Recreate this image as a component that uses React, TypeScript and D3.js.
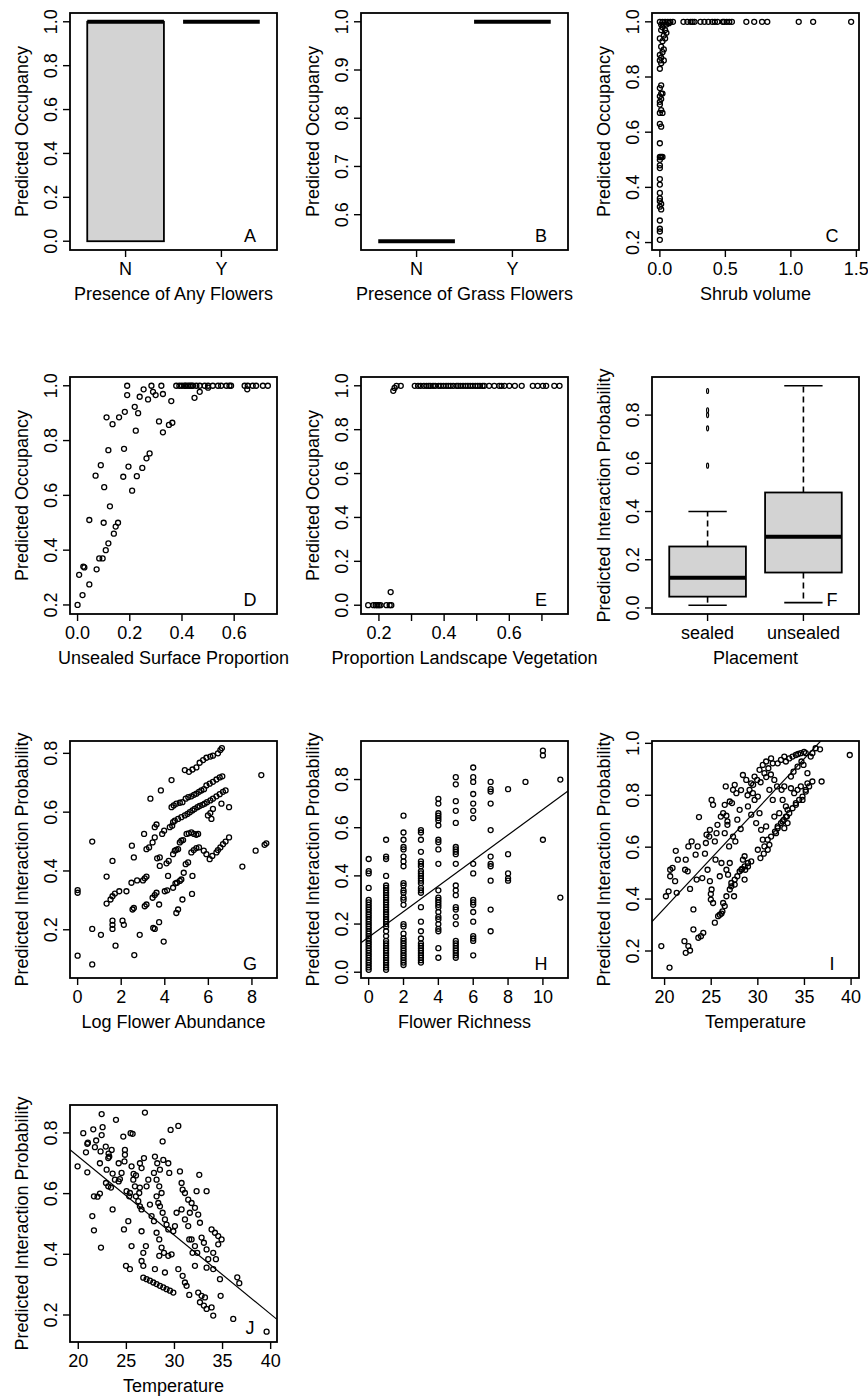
import React from "react";
import * as d3 from "d3";

// ---------- data ----------
const ynGroups = ["N", "Y"];
const anyFlowerBoxes = [
  { lo: 0, q1: 0, med: 1, q3: 1, hi: 1, out: [] as number[] },
  { lo: 1, q1: 1, med: 1, q3: 1, hi: 1, out: [] as number[] },
];
const grassFlowerBoxes = [
  { lo: 0.545, q1: 0.545, med: 0.545, q3: 0.545, hi: 0.545, out: [] as number[] },
  { lo: 1, q1: 1, med: 1, q3: 1, hi: 1, out: [] as number[] },
];
const placementGroups = ["sealed", "unsealed"];
const placementBoxes = [
  { lo: 0.011, q1: 0.047, med: 0.125, q3: 0.255, hi: 0.4, out: [0.59, 0.745, 0.8, 0.82, 0.9] },
  { lo: 0.022, q1: 0.147, med: 0.295, q3: 0.479, hi: 0.922, out: [] as number[] },
];

const shrubPoints = [
  [0.0, 1.0], [0.02, 1.0], [0.04, 1.0], [0.06, 1.0], [0.08, 1.0], [0.1, 1.0], [0.18, 1.0], [0.21, 1.0],
  [0.235, 1.0], [0.25, 1.0], [0.265, 1.0], [0.31, 1.0], [0.34, 1.0], [0.37, 1.0], [0.4, 1.0], [0.42, 1.0],
  [0.44, 1.0], [0.48, 1.0], [0.49, 1.0], [0.51, 1.0], [0.53, 1.0], [0.55, 1.0], [0.66, 1.0], [0.72, 1.0],
  [0.78, 1.0], [0.82, 1.0], [1.06, 1.0], [1.17, 1.0], [1.46, 1.0],
  [0.01, 0.99], [0.03, 0.99], [0.05, 0.99], [0.07, 0.995], [0.02, 0.98], [0.04, 0.97], [0.05, 0.96],
  [0.01, 0.97], [0.03, 0.95], [0.0, 0.94], [0.04, 0.94], [0.02, 0.93], [0.01, 0.91], [0.03, 0.9],
  [0.02, 0.89], [0.0, 0.88], [0.01, 0.87], [0.0, 0.86], [0.03, 0.86], [0.01, 0.85], [0.0, 0.83],
  [0.01, 0.77], [0.0, 0.76], [0.01, 0.74], [0.02, 0.74], [0.0, 0.73], [0.01, 0.72], [0.0, 0.71],
  [0.0, 0.7], [0.01, 0.68], [0.0, 0.67], [0.02, 0.67], [0.0, 0.63], [0.01, 0.62], [0.0, 0.56],
  [0.01, 0.51], [0.0, 0.51], [0.02, 0.51], [0.0, 0.5], [0.0, 0.48], [0.0, 0.47], [0.0, 0.43],
  [0.0, 0.41], [0.0, 0.38], [0.0, 0.36], [0.0, 0.35], [0.01, 0.34], [0.0, 0.33], [0.01, 0.32],
  [0.0, 0.28], [0.0, 0.25], [0.0, 0.24], [0.0, 0.21],
];

const unsealedPoints = [
  [0.0, 0.2], [0.006, 0.31], [0.019, 0.236], [0.022, 0.34], [0.026, 0.337], [0.045, 0.275], [0.045, 0.51],
  [0.069, 0.672], [0.073, 0.33], [0.083, 0.37], [0.089, 0.71], [0.096, 0.37], [0.1, 0.5], [0.102, 0.63],
  [0.108, 0.4], [0.111, 0.885], [0.118, 0.425], [0.118, 0.765], [0.124, 0.56], [0.134, 0.86], [0.139, 0.46],
  [0.146, 0.486], [0.155, 0.5], [0.159, 0.885], [0.175, 0.668], [0.178, 0.77], [0.181, 0.905], [0.19, 1.0],
  [0.19, 0.966], [0.195, 0.705], [0.209, 0.617], [0.219, 0.923], [0.223, 0.836], [0.227, 0.67], [0.232, 0.9],
  [0.238, 0.96], [0.248, 0.7], [0.253, 0.987], [0.264, 0.735], [0.27, 0.95], [0.276, 0.753], [0.283, 1.0],
  [0.289, 0.978], [0.299, 0.966], [0.312, 0.87], [0.321, 1.0], [0.327, 0.97], [0.327, 0.83], [0.35, 0.857],
  [0.359, 0.944], [0.363, 0.865],
  [0.378, 1.0], [0.39, 1.0], [0.4, 1.0], [0.41, 1.0], [0.415, 1.0], [0.423, 1.0], [0.43, 1.0], [0.436, 1.0],
  [0.442, 1.0], [0.455, 1.0], [0.468, 1.0], [0.487, 1.0], [0.5, 1.0], [0.518, 1.0], [0.538, 1.0], [0.55, 1.0],
  [0.57, 1.0], [0.582, 1.0], [0.588, 1.0], [0.64, 1.0], [0.652, 1.0], [0.671, 1.0], [0.684, 1.0], [0.71, 1.0],
  [0.729, 1.0], [0.448, 0.956], [0.468, 0.978], [0.5, 0.993], [0.65, 0.987],
];

const vegetationPoints = [
  [0.167, 0.0], [0.183, 0.0], [0.19, 0.0], [0.195, 0.0], [0.2, 0.0], [0.205, 0.0], [0.223, 0.0], [0.233, 0.0],
  [0.238, 0.0], [0.236, 0.06],
  [0.244, 0.977], [0.248, 0.99], [0.254, 1.0], [0.267, 1.0],
  [0.31, 1.0], [0.32, 1.0], [0.328, 1.0], [0.338, 1.0], [0.346, 1.0], [0.353, 1.0], [0.358, 1.0], [0.366, 1.0],
  [0.373, 1.0], [0.383, 1.0], [0.39, 1.0], [0.398, 1.0], [0.406, 1.0], [0.413, 1.0], [0.42, 1.0], [0.428, 1.0],
  [0.438, 1.0], [0.443, 1.0], [0.45, 1.0], [0.458, 1.0], [0.466, 1.0], [0.473, 1.0], [0.48, 1.0], [0.488, 1.0],
  [0.496, 1.0], [0.503, 1.0], [0.51, 1.0], [0.518, 1.0], [0.523, 1.0],
  [0.538, 1.0], [0.554, 1.0], [0.569, 1.0], [0.576, 1.0], [0.585, 1.0], [0.6, 1.0], [0.617, 1.0], [0.638, 1.0],
  [0.672, 1.0], [0.687, 1.0], [0.703, 1.0], [0.713, 1.0], [0.738, 1.0], [0.754, 1.0],
];

const abundancePoints = [
  [0, 0.335], [0, 0.326], [0, 0.112], [0.67, 0.5], [0.67, 0.203], [0.67, 0.082], [1.07, 0.183], [1.33, 0.381],
  [1.33, 0.289], [1.51, 0.303], [1.6, 0.314], [1.71, 0.323], [1.6, 0.434], [1.6, 0.231], [1.6, 0.217],
  [1.6, 0.203], [1.74, 0.146], [1.91, 0.331], [2.06, 0.231], [2.12, 0.217], [2.24, 0.331], [2.47, 0.36],
  [2.49, 0.486], [2.58, 0.446], [2.52, 0.269], [2.58, 0.274], [2.6, 0.114], [2.73, 0.368], [2.85, 0.183],
  [3.05, 0.526], [3.0, 0.368], [3.08, 0.375], [3.16, 0.381], [3.08, 0.28], [3.16, 0.286], [3.16, 0.474],
  [3.28, 0.48], [3.34, 0.646], [3.44, 0.497], [3.54, 0.514], [3.54, 0.549], [3.62, 0.558], [3.47, 0.206],
  [3.54, 0.203], [3.44, 0.309], [3.54, 0.318], [3.62, 0.326], [3.65, 0.443], [3.77, 0.446], [3.74, 0.286],
  [3.74, 0.226], [3.82, 0.674], [3.77, 0.417], [3.88, 0.526], [3.97, 0.537], [3.95, 0.16], [4.0, 0.331],
  [4.11, 0.334], [4.08, 0.426], [4.18, 0.434], [4.15, 0.383], [4.31, 0.709], [4.23, 0.549], [4.34, 0.554],
  [4.38, 0.457], [4.46, 0.469], [4.53, 0.472], [4.61, 0.474], [4.38, 0.343], [4.49, 0.358], [4.56, 0.36],
  [4.53, 0.257], [4.61, 0.269], [4.69, 0.366], [4.76, 0.371], [4.69, 0.497], [4.76, 0.503], [4.84, 0.505],
  [4.81, 0.303], [4.87, 0.394], [4.76, 0.583], [4.61, 0.577], [4.46, 0.571], [4.38, 0.566], [4.31, 0.617],
  [4.41, 0.623], [4.53, 0.629], [4.69, 0.632], [4.81, 0.634], [4.92, 0.743], [4.96, 0.423], [5.07, 0.429],
  [5.0, 0.526], [5.1, 0.528], [5.22, 0.531], [5.34, 0.526], [5.45, 0.523], [5.53, 0.526], [4.92, 0.589],
  [5.04, 0.594], [5.15, 0.6], [5.27, 0.606], [5.37, 0.611], [5.5, 0.617], [5.6, 0.621], [5.73, 0.625],
  [5.83, 0.629], [4.96, 0.646], [5.08, 0.651], [5.22, 0.654], [5.34, 0.659], [5.45, 0.663], [5.57, 0.669],
  [5.68, 0.674], [5.8, 0.678], [5.11, 0.737], [5.27, 0.745], [5.45, 0.752], [5.25, 0.322], [5.27, 0.383],
  [5.22, 0.463], [5.33, 0.471], [5.45, 0.478], [5.57, 0.48], [5.6, 0.768], [5.76, 0.777], [5.91, 0.785],
  [6.09, 0.789], [6.21, 0.792], [6.44, 0.8], [6.55, 0.811], [6.62, 0.818], [5.91, 0.691], [6.06, 0.697],
  [6.21, 0.703], [6.37, 0.711], [6.52, 0.718], [6.64, 0.722], [5.94, 0.634], [6.09, 0.64], [6.21, 0.646],
  [6.37, 0.654], [6.52, 0.661], [6.67, 0.669], [6.79, 0.674], [5.98, 0.589], [6.09, 0.597], [6.21, 0.611],
  [6.14, 0.577], [6.06, 0.44], [6.18, 0.451], [6.37, 0.463], [6.44, 0.471], [6.55, 0.48], [6.67, 0.491],
  [6.79, 0.5], [6.95, 0.514], [5.79, 0.469], [5.91, 0.457], [6.6, 0.629], [6.95, 0.617], [7.56, 0.415],
  [8.17, 0.469], [8.43, 0.726], [8.58, 0.489], [8.66, 0.494],
];

const richnessValues: [number, number[]][] = [
  [0, [0.47, 0.42, 0.41, 0.35, 0.3, 0.29, 0.28, 0.27, 0.26, 0.25, 0.24, 0.23, 0.22, 0.21, 0.2, 0.19, 0.18, 0.17,
    0.16, 0.15, 0.14, 0.13, 0.12, 0.11, 0.1, 0.09, 0.08, 0.07, 0.06, 0.05, 0.04, 0.03, 0.02, 0.01]],
  [1, [0.55, 0.48, 0.47, 0.4, 0.36, 0.35, 0.34, 0.33, 0.32, 0.31, 0.3, 0.29, 0.28, 0.27, 0.26, 0.25, 0.24, 0.23,
    0.22, 0.21, 0.2, 0.19, 0.17, 0.15, 0.13, 0.12, 0.11, 0.1, 0.09, 0.08, 0.07, 0.06, 0.05, 0.04, 0.03, 0.02, 0.01]],
  [2, [0.65, 0.58, 0.55, 0.52, 0.51, 0.48, 0.46, 0.44, 0.37, 0.36, 0.34, 0.33, 0.31, 0.3, 0.28, 0.2, 0.19, 0.16,
    0.14, 0.13, 0.12, 0.11, 0.1, 0.09, 0.08, 0.07, 0.06, 0.05, 0.04, 0.03]],
  [3, [0.59, 0.58, 0.55, 0.5, 0.46, 0.45, 0.44, 0.42, 0.41, 0.4, 0.39, 0.38, 0.37, 0.35, 0.34, 0.33, 0.27, 0.21,
    0.17, 0.14, 0.12, 0.11, 0.1, 0.09, 0.08, 0.07, 0.06, 0.05, 0.04]],
  [4, [0.72, 0.7, 0.66, 0.65, 0.64, 0.63, 0.61, 0.55, 0.54, 0.51, 0.45, 0.34, 0.31, 0.3, 0.29, 0.28, 0.27, 0.25,
    0.23, 0.22, 0.2, 0.18, 0.17, 0.1, 0.06]],
  [5, [0.81, 0.78, 0.71, 0.67, 0.62, 0.52, 0.51, 0.5, 0.49, 0.45, 0.36, 0.34, 0.32, 0.27, 0.26, 0.23, 0.2, 0.13,
    0.12, 0.11, 0.1, 0.09, 0.08, 0.07, 0.06]],
  [6, [0.85, 0.81, 0.79, 0.74, 0.7, 0.67, 0.64, 0.45, 0.41, 0.3, 0.29, 0.28, 0.25, 0.21, 0.15, 0.14, 0.13, 0.07]],
  [7, [0.79, 0.76, 0.75, 0.7, 0.59, 0.48, 0.45, 0.44, 0.38, 0.26, 0.17]],
  [8, [0.76, 0.49, 0.41, 0.39, 0.38]],
  [9, [0.79]],
  [10, [0.92, 0.9, 0.55]],
  [11, [0.8, 0.31]],
];
const richnessFit = [0.146, 0.053]; // intercept, slope

const tempPointsI = [
  [19.65, 0.219], [20.53, 0.136], [20.14, 0.411], [20.43, 0.43], [20.6, 0.513], [20.6, 0.488], [20.85, 0.52],
  [21.2, 0.586], [21.42, 0.552], [21.3, 0.424], [21.13, 0.469], [22.13, 0.238], [22.27, 0.193], [22.55, 0.219],
  [22.73, 0.202], [22.27, 0.552], [22.2, 0.513], [22.48, 0.507], [22.55, 0.603], [22.9, 0.622], [22.73, 0.439],
  [23.09, 0.36], [23.09, 0.283], [23.44, 0.475], [23.33, 0.571], [23.55, 0.603], [23.69, 0.716], [23.62, 0.251],
  [23.9, 0.257], [24.15, 0.27], [24.04, 0.481], [24.33, 0.575], [24.43, 0.616], [24.5, 0.648], [24.79, 0.641],
  [24.86, 0.667], [25.04, 0.782], [25.2, 0.763], [24.61, 0.513], [24.86, 0.469], [25.04, 0.437], [24.96, 0.398],
  [25.2, 0.385], [25.39, 0.309], [24.96, 0.42], [25.46, 0.552], [25.39, 0.622], [25.57, 0.654], [25.67, 0.686],
  [25.92, 0.488], [26.1, 0.539], [25.92, 0.34], [26.2, 0.353], [26.45, 0.373], [26.03, 0.718], [26.28, 0.731],
  [26.45, 0.763], [26.63, 0.721], [26.74, 0.699], [26.56, 0.834], [26.45, 0.654], [26.74, 0.686], [26.92, 0.603],
  [26.63, 0.513], [26.81, 0.494], [26.99, 0.539], [27.16, 0.449], [27.52, 0.456], [27.45, 0.411], [26.99, 0.776],
  [27.23, 0.77], [27.34, 0.821], [27.52, 0.84], [27.7, 0.808], [27.34, 0.641], [27.59, 0.622], [27.8, 0.706],
  [28.05, 0.744], [28.16, 0.67], [28.23, 0.513], [28.4, 0.552], [28.58, 0.565], [28.65, 0.513], [28.58, 0.475],
  [28.94, 0.526], [29.11, 0.821], [29.29, 0.846], [29.47, 0.808], [29.65, 0.872], [29.65, 0.782], [30.0, 0.795],
  [29.93, 0.859], [28.76, 0.859], [28.4, 0.878], [28.94, 0.757], [29.29, 0.725], [29.82, 0.693], [30.18, 0.731],
  [30.35, 0.667], [30.53, 0.629], [30.89, 0.68], [30.0, 0.59], [30.28, 0.558], [30.64, 0.575], [31.06, 0.59],
  [31.24, 0.609], [30.18, 0.898], [30.53, 0.917], [30.71, 0.885], [30.89, 0.93], [31.13, 0.904], [31.42, 0.942],
  [31.6, 0.923], [31.24, 0.821], [31.6, 0.782], [31.77, 0.859], [32.06, 0.834], [31.77, 0.718], [31.95, 0.654],
  [32.13, 0.68], [32.3, 0.731], [32.13, 0.923], [32.48, 0.936], [32.84, 0.949], [33.01, 0.93], [33.37, 0.942],
  [32.55, 0.821], [32.66, 0.782], [32.84, 0.834], [33.01, 0.757], [32.66, 0.699], [32.84, 0.673], [33.01, 0.718],
  [33.19, 0.693], [33.55, 0.872], [33.83, 0.891], [34.26, 0.91], [33.9, 0.808], [33.72, 0.949], [34.08, 0.955],
  [34.33, 0.959], [34.61, 0.962], [34.96, 0.967], [35.14, 0.962], [34.08, 0.77], [34.26, 0.821], [34.61, 0.834],
  [34.79, 0.782], [33.55, 0.827], [33.19, 0.744], [35.14, 0.821], [35.32, 0.846], [35.67, 0.949], [35.85, 0.962],
  [34.68, 0.93], [34.9, 0.917], [36.2, 0.981], [36.67, 0.977], [36.84, 0.853], [35.32, 0.885], [39.86, 0.955],
  [26.28, 0.385], [26.63, 0.411], [26.99, 0.437], [27.16, 0.462], [27.52, 0.475], [27.8, 0.488], [28.05, 0.507],
  [28.3, 0.516], [28.58, 0.526], [28.94, 0.539], [29.29, 0.545], [25.74, 0.334], [26.1, 0.344],
  [30.71, 0.603], [31.06, 0.629], [31.42, 0.641], [31.84, 0.66], [32.13, 0.673], [32.48, 0.693], [32.77, 0.705],
  [33.12, 0.718], [33.37, 0.731], [33.72, 0.75], [34.08, 0.763], [34.43, 0.782], [34.79, 0.795], [35.14, 0.814],
  [35.5, 0.834], [35.85, 0.853], [28.9, 0.8], [29.5, 0.84], [30.3, 0.85], [28.2, 0.82], [30.9, 0.87], [31.4, 0.88],
];
const tempFitI = [-0.4046, 0.03847];

const tempPointsJ = [
  [19.93, 0.69], [20.52, 0.799], [20.8, 0.736], [20.94, 0.764], [20.94, 0.67], [21.56, 0.812], [21.73, 0.753],
  [21.46, 0.526], [21.63, 0.479], [21.63, 0.591], [22.43, 0.862], [22.53, 0.819], [22.43, 0.793], [22.32, 0.739],
  [22.25, 0.7], [22.25, 0.6], [22.36, 0.422], [23.12, 0.717], [23.22, 0.722], [23.47, 0.744], [22.95, 0.679],
  [22.88, 0.635], [23.12, 0.624], [23.57, 0.548], [23.81, 0.646], [23.92, 0.843], [23.57, 0.666], [24.33, 0.648],
  [24.5, 0.668], [24.68, 0.788], [24.85, 0.744], [24.85, 0.728], [24.75, 0.482], [24.96, 0.362], [25.37, 0.351],
  [25.2, 0.509], [25.44, 0.799], [25.65, 0.797], [25.54, 0.69], [25.72, 0.646], [25.89, 0.624], [25.54, 0.427],
  [25.37, 0.602], [25.02, 0.608], [25.3, 0.591], [25.99, 0.591], [26.24, 0.575], [26.41, 0.558], [26.58, 0.548],
  [26.34, 0.602], [26.41, 0.7], [26.58, 0.684], [26.83, 0.717], [26.93, 0.867], [26.58, 0.476], [26.76, 0.405],
  [27.03, 0.427], [26.58, 0.378], [26.76, 0.362], [27.1, 0.624], [27.28, 0.646], [27.45, 0.564], [27.62, 0.526],
  [26.76, 0.323], [27.1, 0.318], [27.45, 0.313], [27.8, 0.307], [28.14, 0.302], [28.49, 0.296], [28.84, 0.291],
  [29.18, 0.285], [29.53, 0.28], [29.88, 0.274], [27.97, 0.722], [28.21, 0.7], [28.49, 0.679], [28.77, 0.772],
  [28.84, 0.711], [29.36, 0.7], [29.46, 0.668], [27.87, 0.668], [28.14, 0.646], [28.42, 0.624], [28.66, 0.602],
  [28.14, 0.591], [28.32, 0.569], [28.49, 0.558], [28.77, 0.537], [29.01, 0.515], [29.18, 0.498], [29.36, 0.482],
  [27.87, 0.509], [28.14, 0.471], [28.42, 0.449], [28.66, 0.422], [28.91, 0.405], [27.97, 0.351], [28.42, 0.395],
  [29.01, 0.34], [29.36, 0.395], [29.7, 0.4], [29.88, 0.476], [30.05, 0.493], [30.22, 0.537], [29.6, 0.81],
  [30.4, 0.823], [30.57, 0.673], [30.74, 0.635], [30.85, 0.613], [31.09, 0.602], [30.4, 0.351], [30.85, 0.329],
  [31.09, 0.307], [31.26, 0.296], [31.54, 0.266], [30.74, 0.548], [31.09, 0.515], [31.43, 0.493], [31.78, 0.449],
  [32.13, 0.427], [32.37, 0.405], [31.43, 0.58], [31.78, 0.569], [32.13, 0.553], [32.47, 0.531], [31.6, 0.537],
  [31.54, 0.449], [31.88, 0.405], [32.13, 0.362], [32.3, 0.608], [32.58, 0.662], [33.34, 0.608], [32.65, 0.504],
  [32.82, 0.455], [33.06, 0.438], [33.34, 0.416], [33.51, 0.384], [32.47, 0.274], [32.82, 0.263], [33.17, 0.258],
  [32.65, 0.242], [33.06, 0.231], [33.34, 0.22], [33.86, 0.482], [34.21, 0.471], [34.55, 0.46], [34.9, 0.449],
  [34.03, 0.405], [34.31, 0.384], [34.55, 0.433], [33.34, 0.356], [34.03, 0.351], [34.73, 0.318], [34.8, 0.263],
  [33.86, 0.225], [34.03, 0.198], [36.11, 0.187], [36.53, 0.324], [36.74, 0.305], [39.58, 0.145],
  [21.0, 0.768], [21.86, 0.775], [22.86, 0.755], [23.15, 0.732], [24.2, 0.7], [24.8, 0.706], [25.75, 0.665],
  [26.4, 0.62], [26.0, 0.66], [24.2, 0.64], [23.4, 0.62], [22.0, 0.59],
];
const tempFitJ = [1.2422, -0.02599];

// ---------- layout ----------
const W = 207;
const H = 237;
const colX = [70, 361, 652];
const rowY = [13, 377, 741, 1105];
const FONT = "'Liberation Sans', Arial, Helvetica, sans-serif";
const FS = 18;

type Scale = d3.ScaleLinear<number, number>;
type PanelProps = {
  col: number;
  row: number;
  id: string;
  xDomain: [number, number];
  yDomain: [number, number];
  xTicks: number[];
  xLabels?: string[];
  yTicks: number[];
  xTitle: string;
  yTitle: string;
  children: (x: Scale, y: Scale) => React.ReactNode;
};

const fmt1 = d3.format(".1f");

function Panel({ col, row, id, xDomain, yDomain, xTicks, xLabels, yTicks, xTitle, yTitle, children }: PanelProps) {
  const left = colX[col];
  const top = rowY[row];
  const x = d3.scaleLinear().domain(xDomain).range([left, left + W]);
  const y = d3.scaleLinear().domain(yDomain).range([top + H, top]);
  const bottom = top + H;
  const labelFor = (v: number, i: number) => (xLabels ? xLabels[i] : String(v));
  return (
    <g>
      <defs>
        <clipPath id={`clip-${id}`}>
          <rect x={left} y={top} width={W} height={H} />
        </clipPath>
      </defs>
      <g clipPath={`url(#clip-${id})`}>{children(x, y)}</g>
      <rect x={left} y={top} width={W} height={H} fill="none" stroke="#000" strokeWidth={1.8} />
      {xTicks.map((v, i) => (
        <g key={`xt${i}`}>
          <line x1={x(v)} x2={x(v)} y1={bottom} y2={bottom + 7} stroke="#000" strokeWidth={1.4} />
          <text x={x(v)} y={bottom + 25} textAnchor="middle" fontSize={FS} fontFamily={FONT}>
            {labelFor(v, i)}
          </text>
        </g>
      ))}
      {yTicks.map((v, i) => (
        <g key={`yt${i}`}>
          <line x1={left - 7} x2={left} y1={y(v)} y2={y(v)} stroke="#000" strokeWidth={1.4} />
          <text
            transform={`translate(${left - 13},${y(v)}) rotate(-90)`}
            textAnchor="middle"
            fontSize={FS}
            fontFamily={FONT}
          >
            {fmt1(v)}
          </text>
        </g>
      ))}
      <text x={left + W / 2} y={bottom + 50} textAnchor="middle" fontSize={FS} fontFamily={FONT}>
        {xTitle}
      </text>
      <text
        transform={`translate(${left - 42},${top + H / 2}) rotate(-90)`}
        textAnchor="middle"
        fontSize={FS}
        fontFamily={FONT}
      >
        {yTitle}
      </text>
      <text x={left + W - 27} y={bottom - 8} textAnchor="middle" fontSize={FS} fontFamily={FONT}>
        {id}
      </text>
    </g>
  );
}

type Box = { lo: number; q1: number; med: number; q3: number; hi: number; out: number[] };

function Boxes({ boxes, x, y }: { boxes: Box[]; x: Scale; y: Scale }) {
  return (
    <g>
      {boxes.map((b, i) => {
        const c = i + 1;
        return (
          <g key={i}>
            {b.hi > b.q3 && (
              <line x1={x(c)} x2={x(c)} y1={y(b.q3)} y2={y(b.hi)} stroke="#000" strokeWidth={1.6} strokeDasharray="6,4" />
            )}
            {b.lo < b.q1 && (
              <line x1={x(c)} x2={x(c)} y1={y(b.q1)} y2={y(b.lo)} stroke="#000" strokeWidth={1.6} strokeDasharray="6,4" />
            )}
            <line x1={x(c - 0.2)} x2={x(c + 0.2)} y1={y(b.hi)} y2={y(b.hi)} stroke="#000" strokeWidth={1.6} />
            <line x1={x(c - 0.2)} x2={x(c + 0.2)} y1={y(b.lo)} y2={y(b.lo)} stroke="#000" strokeWidth={1.6} />
            <rect
              x={x(c - 0.4)}
              y={y(b.q3)}
              width={x(c + 0.4) - x(c - 0.4)}
              height={y(b.q1) - y(b.q3)}
              fill="#d3d3d3"
              stroke="#000"
              strokeWidth={1.8}
            />
            <line x1={x(c - 0.4)} x2={x(c + 0.4)} y1={y(b.med)} y2={y(b.med)} stroke="#000" strokeWidth={4} />
            {b.out.map((o, k) => (
              <ellipse key={k} cx={x(c)} cy={y(o)} rx={1} ry={2.5} fill="none" stroke="#000" strokeWidth={1.2} />
            ))}
          </g>
        );
      })}
    </g>
  );
}

function Points({ pts, x, y }: { pts: number[][]; x: Scale; y: Scale }) {
  return (
    <g>
      {pts.map((p, i) => (
        <circle key={i} cx={x(p[0])} cy={y(p[1])} r={2.5} fill="none" stroke="#000" strokeWidth={1.3} />
      ))}
    </g>
  );
}

function FitLine({ fit, x, y }: { fit: number[]; x: Scale; y: Scale }) {
  const [a, b] = x.domain();
  return (
    <line x1={x(a)} x2={x(b)} y1={y(fit[0] + fit[1] * a)} y2={y(fit[0] + fit[1] * b)} stroke="#000" strokeWidth={1.2} />
  );
}

const catDomain: [number, number] = [0.42, 2.58];
const richnessPoints = richnessValues.flatMap(([k, vals]) => vals.map((v) => [k, v]));

export default function App() {
  return (
    <div style={{ position: "absolute", left: 0, top: 0 }}>
      <svg width={868} height={1400} style={{ display: "block", background: "#fff" }}>
        <Panel col={0} row={0} id="A" xDomain={catDomain} yDomain={[-0.04, 1.04]} xTicks={[1, 2]} xLabels={ynGroups}
          yTicks={[0, 0.2, 0.4, 0.6, 0.8, 1.0]} xTitle="Presence of Any Flowers" yTitle="Predicted Occupancy">
          {(x, y) => <Boxes boxes={anyFlowerBoxes} x={x} y={y} />}
        </Panel>
        <Panel col={1} row={0} id="B" xDomain={catDomain} yDomain={[0.5268, 1.0182]} xTicks={[1, 2]} xLabels={ynGroups}
          yTicks={[0.6, 0.7, 0.8, 0.9, 1.0]} xTitle="Presence of Grass Flowers" yTitle="Predicted Occupancy">
          {(x, y) => <Boxes boxes={grassFlowerBoxes} x={x} y={y} />}
        </Panel>
        <Panel col={2} row={0} id="C" xDomain={[-0.06, 1.52]} yDomain={[0.173, 1.032]} xTicks={[0, 0.5, 1.0, 1.5]}
          xLabels={["0.0", "0.5", "1.0", "1.5"]} yTicks={[0.2, 0.4, 0.6, 0.8, 1.0]} xTitle="Shrub volume"
          yTitle="Predicted Occupancy">
          {(x, y) => <Points pts={shrubPoints} x={x} y={y} />}
        </Panel>
        <Panel col={0} row={1} id="D" xDomain={[-0.029, 0.764]} yDomain={[0.167, 1.032]} xTicks={[0, 0.2, 0.4, 0.6]}
          xLabels={["0.0", "0.2", "0.4", "0.6"]} yTicks={[0.2, 0.4, 0.6, 0.8, 1.0]} xTitle="Unsealed Surface Proportion"
          yTitle="Predicted Occupancy">
          {(x, y) => <Points pts={unsealedPoints} x={x} y={y} />}
        </Panel>
        <Panel col={1} row={1} id="E" xDomain={[0.145, 0.78]} yDomain={[-0.04, 1.04]}
          xTicks={[0.2, 0.3, 0.4, 0.5, 0.6, 0.7]} xLabels={["0.2", "", "0.4", "", "0.6", ""]}
          yTicks={[0, 0.2, 0.4, 0.6, 0.8, 1.0]} xTitle="Proportion Landscape Vegetation" yTitle="Predicted Occupancy">
          {(x, y) => <Points pts={vegetationPoints} x={x} y={y} />}
        </Panel>
        <Panel col={2} row={1} id="F" xDomain={catDomain} yDomain={[-0.025, 0.958]} xTicks={[1, 2]}
          xLabels={placementGroups} yTicks={[0, 0.2, 0.4, 0.6, 0.8]} xTitle="Placement"
          yTitle="Predicted Interaction Probability">
          {(x, y) => <Boxes boxes={placementBoxes} x={x} y={y} />}
        </Panel>
        <Panel col={0} row={2} id="G" xDomain={[-0.35, 9.15]} yDomain={[0.036, 0.842]} xTicks={[0, 2, 4, 6, 8]}
          yTicks={[0.2, 0.4, 0.6, 0.8]} xTitle="Log Flower Abundance" yTitle="Predicted Interaction Probability">
          {(x, y) => <Points pts={abundancePoints} x={x} y={y} />}
        </Panel>
        <Panel col={1} row={2} id="H" xDomain={[-0.44, 11.44]} yDomain={[-0.024, 0.96]} xTicks={[0, 2, 4, 6, 8, 10]}
          yTicks={[0, 0.2, 0.4, 0.6, 0.8]} xTitle="Flower Richness" yTitle="Predicted Interaction Probability">
          {(x, y) => (
            <g>
              <Points pts={richnessPoints} x={x} y={y} />
              <FitLine fit={richnessFit} x={x} y={y} />
            </g>
          )}
        </Panel>
        <Panel col={2} row={2} id="I" xDomain={[18.65, 40.85]} yDomain={[0.096, 1.009]} xTicks={[20, 25, 30, 35, 40]}
          yTicks={[0.2, 0.4, 0.6, 0.8, 1.0]} xTitle="Temperature" yTitle="Predicted Interaction Probability">
          {(x, y) => (
            <g>
              <Points pts={tempPointsI} x={x} y={y} />
              <FitLine fit={tempFitI} x={x} y={y} />
            </g>
          )}
        </Panel>
        <Panel col={0} row={3} id="J" xDomain={[19.14, 40.66]} yDomain={[0.111, 0.892]} xTicks={[20, 25, 30, 35, 40]}
          yTicks={[0.2, 0.4, 0.6, 0.8]} xTitle="Temperature" yTitle="Predicted Interaction Probability">
          {(x, y) => (
            <g>
              <Points pts={tempPointsJ} x={x} y={y} />
              <FitLine fit={tempFitJ} x={x} y={y} />
            </g>
          )}
        </Panel>
      </svg>
    </div>
  );
}
